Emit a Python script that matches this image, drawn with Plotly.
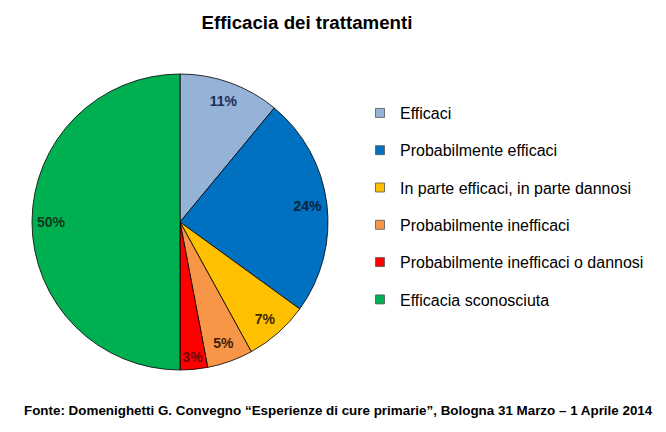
import plotly.graph_objects as go

# chart data
labels = ['Efficaci', 'Probabilmente efficaci', 'In parte efficaci, in parte dannosi',
          'Probabilmente inefficaci', 'Probabilmente inefficaci o dannosi', 'Efficacia sconosciuta']
values = [11, 24, 7, 5, 3, 50]
colors = ['#95B3D7', '#0070C0', '#FFC000', '#F79646', '#FF0000', '#00B050']
text_colors = ['#1B2F55', '#0B2440', '#3A2C00', '#3B1F0A', '#6E0A0A', '#0B3A1E']

title = 'Efficacia dei trattamenti'
source = 'Fonte: Domenighetti G. Convegno \u201cEsperienze di cure primarie\u201d, Bologna 31 Marzo \u2013 1 Aprile 2014'

# page body has an 8px margin, so the figure is a bit smaller and positions are offset
OFF = 8
W, H = 658, 424


def px_x(x):
    return (x - OFF) / W


def px_y(y):
    return 1 - (y - OFF) / H


pie_domain = dict(x=[px_x(32), px_x(328)], y=[px_y(370), px_y(74)])

fig = go.Figure()

# filled pie, no text
fig.add_trace(go.Pie(labels=labels, values=values, sort=False, direction='clockwise', rotation=0,
                     marker=dict(colors=colors, line=dict(color='#000000', width=0.8)),
                     textinfo='none', hoverinfo='label+percent', showlegend=False, domain=pie_domain))

# transparent ring on top, only used to put the percentages near the rim
fig.add_trace(go.Pie(labels=labels, values=values, sort=False, direction='clockwise', rotation=0,
                     hole=0.74, marker=dict(colors=['rgba(0,0,0,0)'] * len(values), line=dict(width=0)),
                     texttemplate='%{percent:.0%}', textposition='inside', insidetextorientation='horizontal',
                     textfont=dict(family='Liberation Sans, Arial', size=14, color=text_colors, weight='bold'),
                     hoverinfo='skip', showlegend=False, domain=pie_domain))

# legend-only entries so the item spacing can be set
for lab, col in zip(labels, colors):
    fig.add_trace(go.Scatter(x=[None], y=[None], mode='markers', name=lab, legendgroup=lab,
                             marker=dict(symbol='square', size=9, color=col,
                                         line=dict(color='#555555', width=0.8))))

fig.update_xaxes(visible=False)
fig.update_yaxes(visible=False)

fig.add_annotation(text=source, xref='paper', yref='paper', x=px_x(338), y=px_y(410),
                   showarrow=False, xanchor='center', yanchor='middle',
                   font=dict(family='Liberation Sans, Arial', size=13.4, color='#000000', weight='bold'))

fig.update_layout(
    width=W, height=H,
    margin=dict(l=0, r=0, t=0, b=0),
    paper_bgcolor='white', plot_bgcolor='white',
    uniformtext=dict(minsize=14, mode='show'),
    title=dict(text=f'<b>{title}</b>', x=px_x(307), xanchor='center', y=px_y(22), yanchor='middle',
               font=dict(family='Liberation Sans, Arial', size=18.7, color='#000000')),
    legend=dict(x=px_x(360), xanchor='left', y=px_y(96), yanchor='top',
                traceorder='grouped', tracegroupgap=13.5,
                font=dict(family='Liberation Sans, Arial', size=16, color='#000000'),
                bgcolor='rgba(0,0,0,0)'),
    font=dict(family='Liberation Sans, Arial'),
)

fig.write_html('out.html')
